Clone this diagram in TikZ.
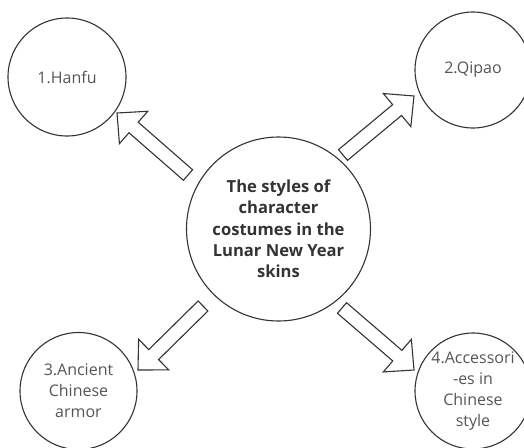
\documentclass[tikz,border=0pt]{standalone}
\usepackage{fontspec}
\setmainfont{Open Sans}
\usetikzlibrary{calc}
\definecolor{linec}{HTML}{333333}
\definecolor{textc}{HTML}{555555}
\definecolor{ctextc}{HTML}{333333}
\newcommand{\blockarrow}[2]{%
  \coordinate (#1-b) at ($(#2)!22pt!(#1)$);
  \draw[arrowline] ($(#1)!7pt!90:(#2)$) -- ($(#1-b)!7pt!90:(#2)$) -- ($(#1-b)!21.5pt!90:(#2)$)
    -- (#2) -- ($(#1-b)!21.5pt!-90:(#2)$) -- ($(#1-b)!7pt!-90:(#2)$) -- ($(#1)!7pt!-90:(#2)$) -- cycle;
}
\begin{document}
\begin{tikzpicture}[x=1pt,y=-1pt,
  bubble/.style={circle,draw=linec,line width=1.1pt,inner sep=0pt,align=center,
    font=\fontsize{16}{21}\selectfont,text=textc},
  arrowline/.style={draw=linec,line width=1.1pt,fill=white,line join=miter}]
\useasboundingbox (0,0) rectangle (524,447);
\node[bubble,minimum size=184pt,text=ctextc,font=\fontsize{16.6}{21.3}\selectfont\bfseries] (c0) at (278.5,229)
  {The styles of\\character\\costumes in the\\Lunar New Year\\skins};
\node[bubble,minimum size=118pt] (h) at (67,77) {1.Hanfu};
\node[bubble,minimum size=116pt] (q) at (473,70) {2.Qipao};
\node[bubble,minimum size=117pt] (a) at (78.5,391) {3.Ancient\\Chinese\\armor};
\node[bubble,minimum size=116pt] (s) at (473,391) {4.Accessori\\-es in\\Chinese\\style};
\coordinate (t1) at (188,175); \coordinate (p1) at (117,113);
\coordinate (t2) at (343,155); \coordinate (p2) at (414,96);
\coordinate (t3) at (203,306); \coordinate (p3) at (138,370);
\coordinate (t4) at (342,308); \coordinate (p4) at (414,370);
\blockarrow{t1}{p1}
\blockarrow{t2}{p2}
\blockarrow{t3}{p3}
\blockarrow{t4}{p4}
\end{tikzpicture}
\end{document}
